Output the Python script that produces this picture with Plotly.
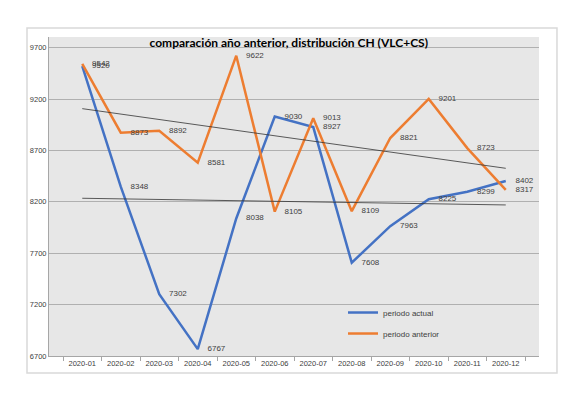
import numpy as np
import plotly.graph_objects as go

meses = ["2020-01", "2020-02", "2020-03", "2020-04", "2020-05", "2020-06",
         "2020-07", "2020-08", "2020-09", "2020-10", "2020-11", "2020-12"]
periodo_actual = [9520, 8348, 7302, 6767, 8038, 9030, 8927, 7608, 7963, 8225, 8299, 8402]
periodo_anterior = [9542, 8873, 8892, 8581, 9622, 8105, 9013, 8109, 8821, 9201, 8723, 8317]
y_ticks = [6700, 7200, 7700, 8200, 8700, 9200, 9700]

AZUL = "#4472C4"
NARANJA = "#ED7D31"
FUENTE = "Liberation Sans"


def tendencia(valores):
    # linear trendline, like the Excel one
    x = np.arange(1, len(valores) + 1)
    m, b = np.polyfit(x, valores, 1)
    return list(m * x + b)


fig = go.Figure()

for nombre, serie, color, grupo in [("periodo actual", periodo_actual, AZUL, "a"),
                                    ("periodo anterior", periodo_anterior, NARANJA, "b")]:
    # invisible markers only push the labels a bit away from the line
    fig.add_trace(go.Scatter(x=meses, y=serie, name=nombre,
                             mode="lines+markers+text", text=[str(v) for v in serie],
                             textposition="middle right",
                             textfont=dict(size=8, color="#404040", family=FUENTE),
                             marker=dict(size=14, color="rgba(0,0,0,0)"),
                             line=dict(color=color, width=2.5), legendgroup=grupo))

for serie in [periodo_actual, periodo_anterior]:
    fig.add_trace(go.Scatter(x=meses, y=tendencia(serie), mode="lines",
                             line=dict(color="#333333", width=0.8),
                             showlegend=False, hoverinfo="skip"))

# outer chart frame
fig.add_shape(type="rect", xref="paper", yref="paper",
              x0=-0.0449, x1=1.0367, y0=-0.0533, y1=1.0282,
              line=dict(color="#d9d9d9", width=1.5), fillcolor="rgba(0,0,0,0)",
              layer="below")

fig.update_layout(
    width=573, height=400,
    margin=dict(l=41, r=42, t=29, b=52),
    paper_bgcolor="white",
    plot_bgcolor="#e7e7e7",
    title=dict(text="<b>comparación año anterior, distribución CH (VLC+CS)</b>",
               x=0.49, xanchor="center", yref="container", y=0.9125, yanchor="middle",
               font=dict(family="Lato", size=12, color="black")),
    legend=dict(x=0.60, y=0.1034, xanchor="left", yanchor="middle",
                bgcolor="rgba(0,0,0,0)", font=dict(size=8, color="#404040", family=FUENTE),
                tracegroupgap=2, itemwidth=30),
    showlegend=True,
)

fig.update_xaxes(type="category", tickson="boundaries", ticks="outside", ticklen=4,
                 tickcolor="#a6a6a6", showline=True, linecolor="#a6a6a6", linewidth=1,
                 showgrid=False, tickfont=dict(size=7.5, color="#404040", family=FUENTE))
fig.update_yaxes(range=[6700, 9804], tickvals=y_ticks, showline=True, linecolor="#a6a6a6",
                 showgrid=True, gridcolor="#b0b0b0", gridwidth=1, zeroline=False,
                 ticks="", tickfont=dict(size=7.5, color="#404040", family=FUENTE))

fig.write_html("out.html")
